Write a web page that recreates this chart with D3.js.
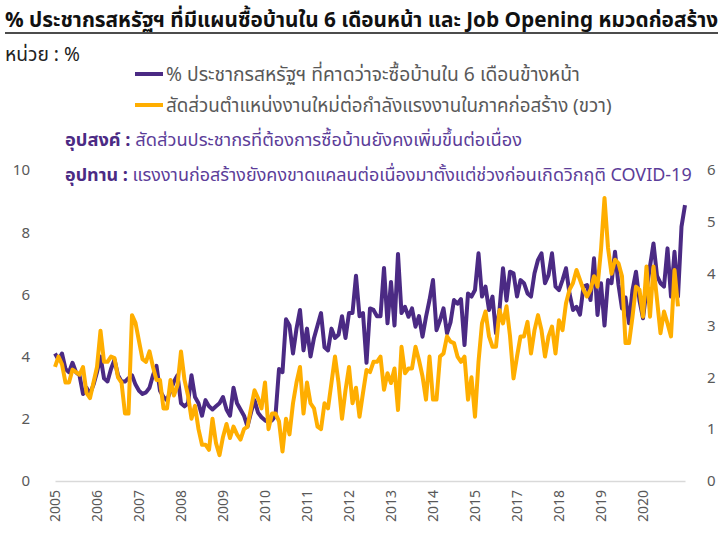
<!DOCTYPE html>
<html>
<head>
<meta charset="utf-8">
<script src="https://cdn.jsdelivr.net/npm/d3@7"></script>
<style>
  body { margin: 0; background: #fff; }
  text { font-family: "Noto Sans Thai", "Leelawadee UI", Tahoma, "Noto Sans", "DejaVu Sans", sans-serif; }
</style>
</head>
<body>
<script>
// x-axis labels, one every 12 points (the source skips 2016)
var yearLabels = ["2005","2006","2007","2008","2009","2010","2011","2012","2013","2014","2015","2017","2018","2019","2020"];

// % of US population planning to buy a home within 6 months (left axis)
var buyers = [
  4.1,3.9,4.1,3.6,3.5,3.8,3.5,3.4,2.8,3.0,
  2.8,3.1,3.5,4.0,3.3,3.2,3.6,3.9,3.4,3.2,
  3.2,3.3,3.4,3.1,2.9,2.8,2.85,3.0,3.4,3.7,
  2.9,2.7,2.6,2.9,3.2,3.4,2.5,2.4,2.5,3.4,
  2.7,2.5,2.1,2.6,2.4,2.3,2.4,2.5,2.7,2.3,
  2.1,3.0,2.5,2.3,2.1,1.75,2.2,2.6,2.2,2.05,
  1.95,1.9,1.95,2.1,3.6,3.5,5.2,5.0,4.1,4.9,
  5.5,4.2,4.9,4.0,4.6,5.0,5.4,4.3,4.2,4.9,
  4.6,4.7,5.3,4.6,5.4,5.4,6.6,5.3,5.4,3.8,
  5.55,5.5,5.3,5.3,6.85,5.07,6.4,5.0,7.3,5.4,
  5.6,5.28,5.55,4.96,5.3,4.64,5.28,5.82,6.46,4.85,
  5.17,5.55,4.75,5.1,5.82,5.7,5.85,4.37,6.03,5.93,
  6.14,7.32,5.93,6.25,5.5,5.93,4.75,5.5,6.84,5.8,
  6.73,6.68,5.93,6.46,6.36,6.03,5.93,6.68,7.11,7.32,
  6.36,6.62,7.32,6.25,6.14,6.46,6.84,6.03,5.5,5.6,
  5.35,6.25,6.3,5.82,7.16,5.34,6.36,5.0,6.46,6.36,
  7.37,6.3,5.55,5.9,5.07,6.14,6.73,5.8,5.23,6.14,
  6.9,7.64,6.6,6.36,6.25,7.48,5.93,7.37,5.93,8.18,
  8.87
];

// construction job openings / labour force (right axis)
var openings = [
  2.2,2.4,2.25,1.9,1.9,2.15,2.1,2.05,2.2,1.7,
  1.6,1.9,2.2,2.9,2.3,2.3,2.4,2.37,2.0,1.9,
  1.3,1.3,3.2,3.05,2.7,2.35,2.3,2.5,2.2,1.95,
  1.95,1.4,1.4,1.95,1.65,1.85,2.5,1.95,1.65,1.2,
  1.45,1.0,0.7,0.7,0.6,1.2,0.73,0.5,0.85,1.1,
  0.83,1.05,0.9,0.8,1.0,1.05,1.4,1.75,1.6,1.4,
  1.9,1.0,1.3,1.3,1.15,0.57,1.2,0.9,1.5,1.9,
  2.2,1.3,1.9,1.5,1.4,1.05,1.0,1.5,1.4,1.9,
  2.4,1.9,1.2,1.75,2.2,1.5,1.8,1.24,1.7,2.14,
  2.1,2.3,2.3,2.4,1.76,2.08,1.89,2.17,1.37,2.59,
  2.08,2.17,2.17,2.59,2.33,2.02,1.57,2.4,1.57,1.57,
  2.4,2.46,2.79,2.69,2.66,2.4,2.3,2.4,1.57,2.0,
  1.24,2.3,3.04,3.27,2.79,2.59,2.59,3.3,3.04,3.37,
  2.8,1.98,2.4,2.79,2.79,3.07,2.46,2.91,3.2,2.91,
  2.4,2.79,2.98,2.46,3.1,2.91,3.43,3.69,3.82,4.07,
  3.88,3.69,3.56,3.69,3.95,3.75,4.46,5.46,4.5,4.0,
  4.27,4.2,3.95,2.66,2.66,3.17,3.75,3.69,3.17,4.14,
  3.17,4.14,3.5,2.85,3.27,3.04,2.79,4.07,3.37
];

var leftTicks = [0, 2, 4, 6, 8, 10];
var rightTicks = [0, 1, 2, 3, 4, 5, 6];

var purple = "#4b2a84", orange = "#ffae00", grey = "#595959", notePurple = "#5c3d99";

var width = 721, height = 534;
var svg = d3.select("body").append("svg")
    .attr("width", width)
    .attr("height", height);

var x = d3.scaleLinear().domain([0, buyers.length - 1]).range([55, 685]);
var yLeft = d3.scaleLinear().domain([0, 10]).range([481, 170]);
var yRight = d3.scaleLinear().domain([0, 6]).range([481, 170]);

// shrink/grow font so a text spans the width it has in the picture
function fit(sel, w) {
  var fs = parseFloat(sel.attr("font-size"));
  var len = sel.node().getComputedTextLength();
  sel.attr("font-size", (fs * w / len).toFixed(2));
}

// title
var title = svg.append("text")
    .attr("x", 5).attr("y", 27)
    .attr("font-size", 19).attr("font-weight", "bold").attr("fill", "#111")
    .text("% ประชากรสหรัฐฯ ที่มีแผนซื้อบ้านใน 6 เดือนหน้า และ Job Opening หมวดก่อสร้าง");
fit(title, 713);
svg.append("line")
    .attr("x1", 5).attr("x2", 718).attr("y1", 33).attr("y2", 33)
    .attr("stroke", "#111").attr("stroke-width", 1.5);

var unit = svg.append("text")
    .attr("x", 5).attr("y", 61)
    .attr("font-size", 15).attr("fill", "#222")
    .text("หน่วย : %");
fit(unit, 75);

// legend
var legend = [
  { label: "% ประชากรสหรัฐฯ ที่คาดว่าจะซื้อบ้านใน 6 เดือนข้างหน้า", color: purple, y: 74, w: 414 },
  { label: "สัดส่วนตำแหน่งงานใหม่ต่อกำลังแรงงานในภาคก่อสร้าง (ขวา)", color: orange, y: 105, w: 446 }
];
legend.forEach(function(d) {
  svg.append("line")
      .attr("x1", 135).attr("x2", 163).attr("y1", d.y).attr("y2", d.y)
      .attr("stroke", d.color).attr("stroke-width", 4);
  var t = svg.append("text")
      .attr("x", 166).attr("y", d.y).attr("dy", "0.35em")
      .attr("font-size", 16).attr("fill", grey)
      .text(d.label);
  fit(t, d.w);
});

// notes
var notes = [
  { head: "อุปสงค์ : ", body: "สัดส่วนประชากรที่ต้องการซื้อบ้านยังคงเพิ่มขึ้นต่อเนื่อง", y: 140, w: 457 },
  { head: "อุปทาน : ", body: "แรงงานก่อสร้างยังคงขาดแคลนต่อเนื่องมาตั้งแต่ช่วงก่อนเกิดวิกฤติ COVID-19", y: 175, w: 627 }
];
notes.forEach(function(d) {
  var t = svg.append("text")
      .attr("x", 65).attr("y", d.y).attr("dy", "0.35em")
      .attr("font-size", 16).attr("fill", notePurple);
  t.append("tspan").attr("font-weight", "bold").attr("fill", purple).text(d.head);
  t.append("tspan").text(d.body);
  fit(t, d.w);
});

// x axis
var xAxis = svg.append("g")
    .attr("transform", "translate(0,481)")
    .call(d3.axisBottom(x)
      .tickValues(yearLabels.map(function(d, i) { return i * 12; }))
      .tickFormat(function(d) { return yearLabels[d / 12]; })
      .tickSize(0));
xAxis.select(".domain").attr("stroke", "#d9d9d9").attr("stroke-width", 1.5);
xAxis.selectAll("text")
    .attr("font-size", 14).attr("fill", grey)
    .attr("font-family", "'Open Sans', sans-serif")
    .attr("transform", "rotate(-90)")
    .attr("text-anchor", "end")
    .attr("x", -9).attr("y", 0).attr("dy", "0.35em");

// left axis
var yAxisL = svg.append("g")
    .attr("transform", "translate(30,0)")
    .call(d3.axisLeft(yLeft).tickValues(leftTicks).tickFormat(d3.format("d")).tickSize(0).tickPadding(0));
yAxisL.select(".domain").remove();
yAxisL.selectAll("text").attr("font-size", 15).attr("fill", grey)
    .attr("font-family", "'Open Sans', sans-serif");

// right axis
var yAxisR = svg.append("g")
    .attr("transform", "translate(707,0)")
    .call(d3.axisRight(yRight).tickValues(rightTicks).tickFormat(d3.format("d")).tickSize(0).tickPadding(0));
yAxisR.select(".domain").remove();
yAxisR.selectAll("text").attr("font-size", 15).attr("fill", grey)
    .attr("font-family", "'Open Sans', sans-serif");

// lines
var lineL = d3.line()
    .x(function(d, i) { return x(i); })
    .y(function(d) { return yLeft(d); });
var lineR = d3.line()
    .x(function(d, i) { return x(i); })
    .y(function(d) { return yRight(d); });

svg.append("path")
    .datum(buyers)
    .attr("d", lineL)
    .attr("fill", "none")
    .attr("stroke", purple)
    .attr("stroke-width", 4)
    .attr("stroke-linejoin", "round");

svg.append("path")
    .datum(openings)
    .attr("d", lineR)
    .attr("fill", "none")
    .attr("stroke", orange)
    .attr("stroke-width", 4)
    .attr("stroke-linejoin", "round");
</script>
</body>
</html>
